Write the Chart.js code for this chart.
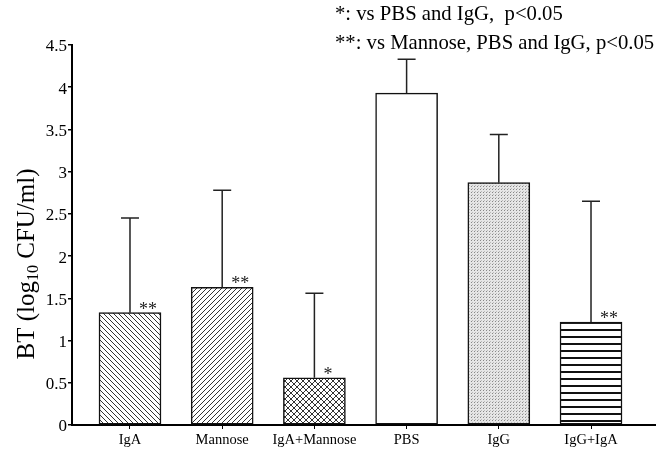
<!DOCTYPE html>
<html>
<head>
<meta charset="utf-8">
<script src="https://cdn.jsdelivr.net/npm/chart.js@4/dist/chart.umd.min.js"></script>
<style>
  html, body { margin: 0; padding: 0; background: #fff; }
  #btChart { display: block; }
</style>
</head>
<body>
<canvas id="btChart" width="658" height="460"></canvas>
<script>
// Bacterial translocation per treatment group
var groups = ["IgA", "Mannose", "IgA+Mannose", "PBS", "IgG", "IgG+IgA"];
var means = [1.33, 1.63, 0.56, 3.93, 2.87, 1.22];
var sdUpper = [1.12, 1.15, 1.00, 0.40, 0.57, 1.43];
var marks = ["**", "**", "*", "", "", "**"];
var yTicks = [0, 0.5, 1, 1.5, 2, 2.5, 3, 3.5, 4, 4.5];
var notes = ["*: vs PBS and IgG,  p<0.05", "**: vs Mannose, PBS and IgG, p<0.05"];

var serif = "'Liberation Serif', 'Times New Roman', serif";

// Fill patterns for each bar
function makePattern(w, h, paint) {
	var c = document.createElement("canvas");
	c.width = w;
	c.height = h;
	var g = c.getContext("2d");
	paint(g, w, h);
	return document.createElement("canvas").getContext("2d").createPattern(c, "repeat");
}

var backHatch = makePattern(5, 5, function(g, w, h) {
	g.fillStyle = "#fff";
	g.fillRect(0, 0, w, h);
	g.fillStyle = "#333";
	for (var i = 0; i < w; i++) g.fillRect(i, i, 1, 1);
});
var fwdHatch = makePattern(5, 5, function(g, w, h) {
	g.fillStyle = "#fff";
	g.fillRect(0, 0, w, h);
	g.fillStyle = "#333";
	for (var i = 0; i < w; i++) g.fillRect(w - 1 - i, i, 1, 1);
});
var crossHatch = makePattern(6, 6, function(g, w, h) {
	g.fillStyle = "#fff";
	g.fillRect(0, 0, w, h);
	g.fillStyle = "#333";
	for (var i = 0; i < w; i++) {
		g.fillRect(i, i, 1, 1);
		g.fillRect(w - 1 - i, i, 1, 1);
	}
});
var dots = makePattern(3, 3, function(g, w, h) {
	g.fillStyle = "#e6e6e6";
	g.fillRect(0, 0, w, h);
	g.fillStyle = "#888";
	g.fillRect(0, 0, 1, 1);
	g.fillStyle = "#bbb";
	g.fillRect(1, 2, 1, 1);
});
var hLines = makePattern(4, 7, function(g, w, h) {
	g.fillStyle = "#fff";
	g.fillRect(0, 0, w, h);
	g.fillStyle = "#111";
	g.fillRect(0, 0, w, 2);
});

var fills = [backHatch, fwdHatch, crossHatch, "#ffffff", dots, hLines];

// Error bars, significance marks, axis title and footnotes
var extras = {
	id: "extras",
	afterDatasetsDraw: function(chart) {
		var ctx = chart.ctx;
		var y = chart.scales.y;
		var bars = chart.getDatasetMeta(0).data;
		ctx.save();
		ctx.strokeStyle = "#222";
		ctx.lineWidth = 1.5;
		bars.forEach(function(bar, i) {
			var top = y.getPixelForValue(means[i] + sdUpper[i]);
			ctx.beginPath();
			ctx.moveTo(bar.x, bar.y);
			ctx.lineTo(bar.x, top);
			ctx.moveTo(bar.x - 9, top);
			ctx.lineTo(bar.x + 9, top);
			ctx.stroke();
			if (marks[i]) {
				ctx.fillStyle = "#222";
				ctx.font = "18px " + serif;
				ctx.textAlign = "left";
				ctx.textBaseline = "alphabetic";
				ctx.fillText(marks[i], bar.x + 9, bar.y + 2);
			}
		});
		ctx.restore();
	},
	afterDraw: function(chart) {
		var ctx = chart.ctx;
		ctx.save();
		ctx.fillStyle = "#000";
		ctx.textBaseline = "middle";
		ctx.textAlign = "left";
		ctx.font = "20.7px " + serif;
		ctx.fillText(notes[0], 335, 15);
		ctx.fillText(notes[1], 335, 44);

		// rotated y title with subscript
		ctx.translate(27, 264);
		ctx.rotate(-Math.PI / 2);
		var big = "25px " + serif, small = "16px " + serif;
		var parts = [["BT (log", big, 0], ["10", small, 7], [" CFU/ml)", big, 0]];
		var total = 0;
		parts.forEach(function(p) { ctx.font = p[1]; total += ctx.measureText(p[0]).width; });
		var x = -total / 2;
		parts.forEach(function(p) {
			ctx.font = p[1];
			ctx.fillText(p[0], x, p[2]);
			x += ctx.measureText(p[0]).width;
		});
		ctx.restore();
	}
};

new Chart(document.getElementById("btChart"), {
	type: "bar",
	data: {
		datasets: [{
			data: means.map(function(v, i) { return { x: i, y: v }; }),
			backgroundColor: fills,
			borderColor: "#111",
			borderWidth: 1.5,
			borderSkipped: false,
			barThickness: 62
		}]
	},
	options: {
		responsive: false,
		animation: false,
		layout: { padding: { top: 45, right: 3, left: 0, bottom: 0 } },
		plugins: { legend: { display: false }, tooltip: { enabled: false } },
		scales: {
			x: {
				type: "linear",
				offset: false,
				min: -0.629,
				max: 5.694,
				afterBuildTicks: function(scale) {
					scale.ticks = groups.map(function(g, i) { return { value: i }; });
				},
				afterFit: function(scale) { scale.height = 35; },
				ticks: {
					callback: function(v) { return groups[v]; },
					color: "#000",
					font: { family: serif, size: 14.5 },
					padding: 2,
					maxRotation: 0,
					autoSkip: false
				},
				grid: { drawOnChartArea: false, offset: false, tickLength: 4, color: "#000", lineWidth: 1 },
				border: { color: "#000", width: 2 }
			},
			y: {
				min: 0,
				max: 4.5,
				afterBuildTicks: function(scale) {
					scale.ticks = yTicks.map(function(v) { return { value: v }; });
				},
				afterFit: function(scale) { scale.width = 72; },
				ticks: {
					callback: function(v) { return String(v); },
					color: "#000",
					font: { family: serif, size: 17 },
					padding: 1,
					labelOffset: 2
				},
				grid: { drawOnChartArea: false, tickLength: 4, color: "#000", lineWidth: 1.5 },
				border: { color: "#000", width: 2 }
			}
		}
	},
	plugins: [extras]
});
</script>
</body>
</html>
